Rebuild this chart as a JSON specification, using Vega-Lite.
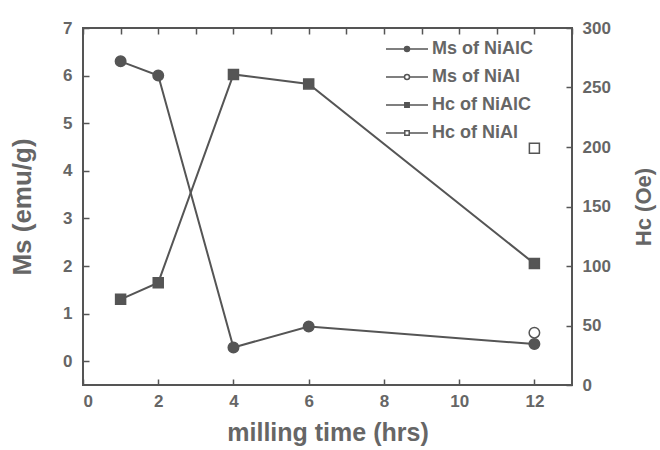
{
  "$schema": "https://vega.github.io/schema/vega-lite/v6.json",
  "width": 489,
  "height": 357,
  "autosize": "none",
  "padding": {"left": 83, "top": 28, "right": 88, "bottom": 65},
  "background": "white",
  "config": {
    "font": "Liberation Sans",
    "view": {"stroke": "#555", "strokeWidth": 2},
    "axis": {
      "domain": false,
      "grid": false,
      "tickColor": "#555",
      "tickWidth": 1.5,
      "tickSize": 6,
      "offset": -6,
      "labelFontSize": 17,
      "labelFontWeight": "bold",
      "labelColor": "#666",
      "titleFontSize": 22,
      "titleFontWeight": "bold",
      "titleColor": "#666"
    }
  },
  "data": {
    "values": [
      {"time": 1, "value": 6.3, "q": "Ms", "series": "Ms of NiAlC"},
      {"time": 2, "value": 6.0, "q": "Ms", "series": "Ms of NiAlC"},
      {"time": 4, "value": 0.29, "q": "Ms", "series": "Ms of NiAlC"},
      {"time": 6, "value": 0.73, "q": "Ms", "series": "Ms of NiAlC"},
      {"time": 12, "value": 0.36, "q": "Ms", "series": "Ms of NiAlC"},
      {"time": 12, "value": 0.6, "q": "Ms", "series": "Ms of NiAl"},
      {"time": 1, "value": 72, "q": "Hc", "series": "Hc of NiAlC"},
      {"time": 2, "value": 86, "q": "Hc", "series": "Hc of NiAlC"},
      {"time": 4, "value": 261, "q": "Hc", "series": "Hc of NiAlC"},
      {"time": 6, "value": 253, "q": "Hc", "series": "Hc of NiAlC"},
      {"time": 12, "value": 102, "q": "Hc", "series": "Hc of NiAlC"},
      {"time": 12, "value": 199, "q": "Hc", "series": "Hc of NiAl"}
    ]
  },
  "layer": [
    {
      "transform": [{"filter": "datum.q == 'Ms'"}],
      "encoding": {
        "x": {
          "field": "time", "type": "quantitative",
          "scale": {"domain": [0, 13], "nice": false},
          "axis": {"orient": "bottom", "values": [0, 2, 4, 6, 8, 10, 12], "labelPadding": 8, "title": "milling time (hrs)", "titlePadding": 11, "titleFontSize": 25}
        },
        "y": {
          "field": "value", "type": "quantitative",
          "scale": {"domain": [-0.5, 7], "nice": false, "zero": false},
          "axis": {"orient": "left", "values": [0, 1, 2, 3, 4, 5, 6, 7], "labelPadding": 11, "title": "Ms (emu/g)", "titlePadding": 27, "titleFontSize": 26}
        }
      },
      "layer": [
        {
          "transform": [{"filter": "datum.series == 'Ms of NiAlC'"}],
          "mark": {"type": "line", "color": "#555", "strokeWidth": 2}
        },
        {
          "mark": {"type": "point", "shape": "circle", "stroke": "#555", "strokeWidth": 1.5, "opacity": 1, "size": 110},
          "encoding": {
            "fill": {
              "field": "series", "type": "nominal",
              "scale": {"domain": ["Ms of NiAlC", "Ms of NiAl", "Hc of NiAlC", "Hc of NiAl"], "range": ["#555", "#ffffff", "#555", "#ffffff"]}
            }
          }
        },
        {
          "mark": {"type": "point", "stroke": "#555", "strokeWidth": 1.5, "opacity": 0},
          "encoding": {
            "shape": {
              "field": "series", "type": "nominal",
              "scale": {
                "domain": ["Ms of NiAlC", "Ms of NiAl", "Hc of NiAlC", "Hc of NiAl"],
                "range": [
                  "M-2.1,0L-0.25,0M0.25,0L2.1,0M-0.25,0A0.25,0.25,0,1,1,0.25,0A0.25,0.25,0,1,1,-0.25,0Z",
                  "M-2.1,0L-0.25,0M0.25,0L2.1,0M-0.25,0A0.25,0.25,0,1,1,0.25,0A0.25,0.25,0,1,1,-0.25,0Z",
                  "M-2.1,0L-0.22,0M0.22,0L2.1,0M-0.22,-0.22L0.22,-0.22L0.22,0.22L-0.22,0.22Z",
                  "M-2.1,0L-0.22,0M0.22,0L2.1,0M-0.22,-0.22L0.22,-0.22L0.22,0.22L-0.22,0.22Z"
                ]
              },
              "legend": {
                "title": null,
                "orient": "none",
                "legendX": 313,
                "legendY": 10,
                "symbolSize": 400,
                "symbolOpacity": 1,
                "symbolStrokeColor": "#555",
                "symbolStrokeWidth": 1.5,
                "labelFontSize": 18,
                "labelFontWeight": "bold",
                "labelColor": "#666",
                "labelOffset": 14,
                "rowPadding": 8
              }
            },
            "fill": {
              "field": "series", "type": "nominal",
              "scale": {"domain": ["Ms of NiAlC", "Ms of NiAl", "Hc of NiAlC", "Hc of NiAl"], "range": ["#555", "#ffffff", "#555", "#ffffff"]}
            }
          }
        }
      ]
    },
    {
      "transform": [{"filter": "datum.q == 'Hc'"}],
      "encoding": {
        "x": {
          "field": "time", "type": "quantitative",
          "scale": {"domain": [0, 13], "nice": false},
          "axis": {"orient": "top", "values": [0, 1, 2, 3, 4, 5, 6, 7, 8, 9, 10, 11, 12, 13], "labels": false, "title": null}
        },
        "y": {
          "field": "value", "type": "quantitative",
          "scale": {"domain": [0, 300], "nice": false},
          "axis": {"orient": "right", "values": [0, 50, 100, 150, 200, 250, 300], "labelPadding": 10, "title": "Hc (Oe)", "titleAngle": 270, "titlePadding": 45, "titleFontSize": 22}
        }
      },
      "layer": [
        {
          "transform": [{"filter": "datum.series == 'Hc of NiAlC'"}],
          "mark": {"type": "line", "color": "#555", "strokeWidth": 2}
        },
        {
          "mark": {"type": "point", "shape": "square", "stroke": "#555", "strokeWidth": 1.5, "opacity": 1, "size": 100},
          "encoding": {
            "fill": {
              "field": "series", "type": "nominal",
              "scale": {"domain": ["Ms of NiAlC", "Ms of NiAl", "Hc of NiAlC", "Hc of NiAl"], "range": ["#555", "#ffffff", "#555", "#ffffff"]}
            }
          }
        }
      ]
    }
  ],
  "resolve": {"scale": {"y": "independent"}, "axis": {"x": "independent", "y": "independent"}}
}
